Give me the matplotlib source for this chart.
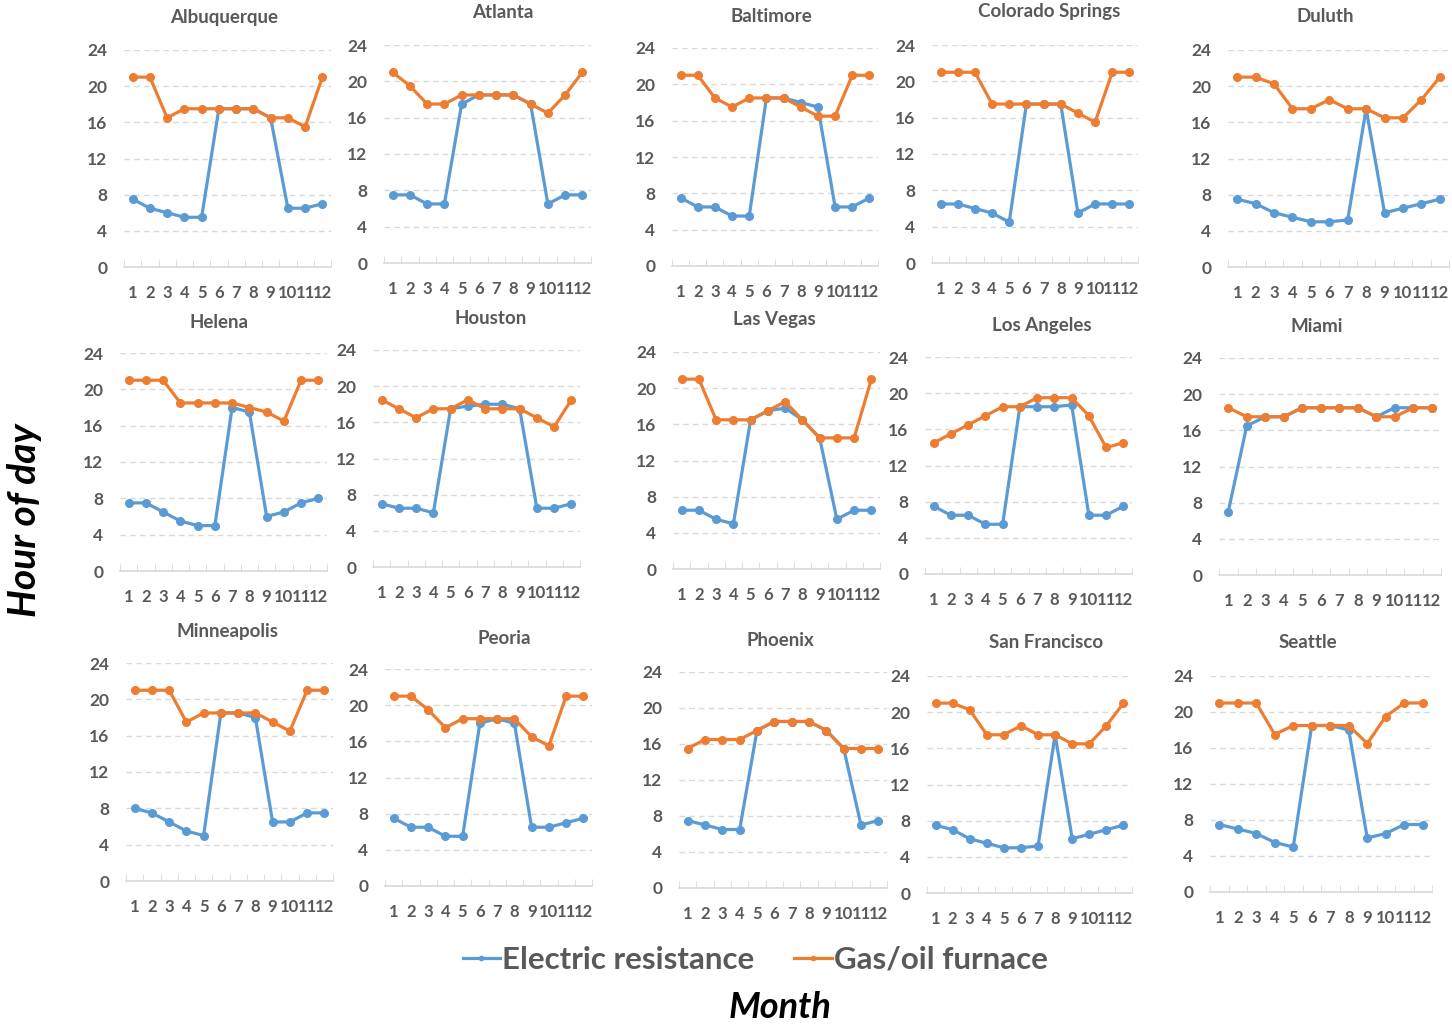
import matplotlib
matplotlib.use("Agg")
import matplotlib.pyplot as plt

plt.rcParams['font.family'] = ['Lato', 'DejaVu Sans']

months = list(range(1, 13))
cities = ["Albuquerque", "Atlanta", "Baltimore", "Colorado Springs", "Duluth",
          "Helena", "Houston", "Las Vegas", "Los Angeles", "Miami",
          "Minneapolis", "Peoria", "Phoenix", "San Francisco", "Seattle"]

electric = [
    [7.5, 6.5, 6, 5.5, 5.5, 17.5, 17.5, 17.5, 16.5, 6.5, 6.5, 7],       # Albuquerque
    [7.5, 7.5, 6.5, 6.5, 17.5, 18.5, 18.5, 18.5, 17.5, 6.5, 7.5, 7.5],  # Atlanta
    [7.5, 6.5, 6.5, 5.5, 5.5, 18.5, 18.5, 18, 17.5, 6.5, 6.5, 7.5],     # Baltimore
    [6.5, 6.5, 6, 5.5, 4.5, 17.5, 17.5, 17.5, 5.5, 6.5, 6.5, 6.5],      # Colorado Springs
    [7.5, 7, 6, 5.5, 5, 5, 5.2, 17.5, 6, 6.5, 7, 7.5],                  # Duluth
    [7.5, 7.5, 6.5, 5.5, 5, 5, 18, 17.5, 6, 6.5, 7.5, 8],               # Helena
    [7, 6.5, 6.5, 6, 17.5, 17.8, 18, 18, 17.5, 6.5, 6.5, 7],            # Houston
    [6.5, 6.5, 5.5, 5, 16.5, 17.5, 17.8, 16.5, 14.5, 5.5, 6.5, 6.5],    # Las Vegas
    [7.5, 6.5, 6.5, 5.5, 5.5, 18.5, 18.5, 18.5, 18.7, 6.5, 6.5, 7.5],   # Los Angeles
    [7, 16.5, 17.5, 17.5, 18.5, 18.5, 18.5, 18.5, 17.5, 18.5, 18.5, 18.5],  # Miami
    [8, 7.5, 6.5, 5.5, 5, 18.5, 18.5, 18, 6.5, 6.5, 7.5, 7.5],          # Minneapolis
    [7.5, 6.5, 6.5, 5.5, 5.5, 18, 18.5, 18, 6.5, 6.5, 7, 7.5],          # Peoria
    [7.5, 7, 6.5, 6.5, 17.5, 18.5, 18.5, 18.5, 17.5, 15.5, 7, 7.5],     # Phoenix
    [7.5, 7, 6, 5.5, 5, 5, 5.2, 17.5, 6, 6.5, 7, 7.5],                  # San Francisco
    [7.5, 7, 6.5, 5.5, 5, 18.5, 18.5, 18, 6, 6.5, 7.5, 7.5],            # Seattle
]

gas = [
    [21, 21, 16.5, 17.5, 17.5, 17.5, 17.5, 17.5, 16.5, 16.5, 15.5, 21],
    [21, 19.5, 17.5, 17.5, 18.5, 18.5, 18.5, 18.5, 17.5, 16.5, 18.5, 21],
    [21, 21, 18.5, 17.5, 18.5, 18.5, 18.5, 17.5, 16.5, 16.5, 21, 21],
    [21, 21, 21, 17.5, 17.5, 17.5, 17.5, 17.5, 16.5, 15.5, 21, 21],
    [21, 21, 20.25, 17.5, 17.5, 18.5, 17.5, 17.5, 16.5, 16.5, 18.5, 21],
    [21, 21, 21, 18.5, 18.5, 18.5, 18.5, 18, 17.5, 16.5, 21, 21],
    [18.5, 17.5, 16.5, 17.5, 17.5, 18.5, 17.5, 17.5, 17.5, 16.5, 15.5, 18.5],
    [21, 21, 16.5, 16.5, 16.5, 17.5, 18.5, 16.5, 14.5, 14.5, 14.5, 21],
    [14.5, 15.5, 16.5, 17.5, 18.5, 18.5, 19.5, 19.5, 19.5, 17.5, 14, 14.5],
    [18.5, 17.5, 17.5, 17.5, 18.5, 18.5, 18.5, 18.5, 17.5, 17.5, 18.5, 18.5],
    [21, 21, 21, 17.5, 18.5, 18.5, 18.5, 18.5, 17.5, 16.5, 21, 21],
    [21, 21, 19.5, 17.5, 18.5, 18.5, 18.5, 18.5, 16.5, 15.5, 21, 21],
    [15.5, 16.5, 16.5, 16.5, 17.5, 18.5, 18.5, 18.5, 17.5, 15.5, 15.5, 15.5],
    [21, 21, 20.25, 17.5, 17.5, 18.5, 17.5, 17.5, 16.5, 16.5, 18.5, 21],
    [21, 21, 21, 17.5, 18.5, 18.5, 18.5, 18.5, 16.5, 19.5, 21, 21],
]

# plot area of each panel in pixels: left, y of 24, right, y of 0, title x, title y
boxes = [
    (124, 50, 331, 267, 224, 18), (384, 45, 591, 263, 503, 13),
    (672, 48, 878, 266, 771, 16), (932, 45, 1138, 263, 1049, 12),
    (1228, 50, 1449, 267, 1325, 17),
    (120, 353, 327, 571, 219, 322), (373, 350, 580, 567, 491, 318),
    (673, 352, 880, 569, 774, 320), (925, 357, 1132, 574, 1042, 326),
    (1219, 358, 1441, 575, 1317, 327),
    (126, 663, 333, 881, 227, 631), (385, 669, 592, 886, 504, 638),
    (679, 672, 887, 888, 780, 640), (927, 676, 1132, 893, 1046, 643),
    (1210, 676, 1432, 892, 1308, 643),
]

W, H = 1452, 1024
BLUE, ORANGE, GREY = "#5B9BD5", "#ED7D31", "#595959"

fig = plt.figure(figsize=(W / 100, H / 100), dpi=100)

for i, city in enumerate(cities):
    l, t, r, b, tx, ty = boxes[i]
    ax = fig.add_axes([l / W, 1 - b / H, (r - l) / W, (b - t) / H])
    pe, = ax.plot(months, electric[i], "-o", color=BLUE, lw=2.3, ms=5.5, clip_on=False)
    pg, = ax.plot(months, gas[i], "-o", color=ORANGE, lw=2.3, ms=5.5, clip_on=False)
    ax.set_xlim(0.5, 12.5)
    ax.set_ylim(0, 24)
    ax.set_yticks(range(0, 25, 4))
    ax.set_xticks(months)
    ax.set_xticks([m + 0.5 for m in range(0, 13)], minor=True)
    ax.grid(axis="y", color="#D9D9D9", ls=(0, (4, 3)), lw=1)
    ax.set_axisbelow(True)
    for s in ["left", "right", "top"]:
        ax.spines[s].set_visible(False)
    ax.spines["bottom"].set_color("#D9D9D9")
    ax.spines["bottom"].set_linewidth(1.2)
    ax.tick_params(axis="y", length=0, pad=12, labelsize=12.5, labelcolor=GREY)
    ax.tick_params(axis="x", which="major", length=0, pad=13, labelsize=12, labelcolor=GREY)
    ax.tick_params(axis="x", which="minor", direction="in", length=5, color="#D9D9D9")
    for lab in ax.get_xticklabels() + ax.get_yticklabels():
        lab.set_fontweight("bold")
    fig.text(tx / W, 1 - ty / H, city, ha="center", va="center",
             fontsize=13.5, fontweight="bold", color=GREY)

fig.legend([pe, pg], ["Electric resistance", "Gas/oil furnace"],
           loc="center", bbox_to_anchor=(755 / W, 1 - 960 / H), ncol=2,
           frameon=False, prop={"size": 22.5, "weight": "bold"}, labelcolor=GREY,
           handlelength=1.2, handletextpad=0.05, columnspacing=1.3, markerscale=0.55)

fig.text(780 / W, 1 - 1007 / H, "Month", ha="center", va="center",
         fontsize=26, fontweight="bold", style="italic")
fig.text(25 / W, 1 - 520 / H, "Hour of day", ha="center", va="center",
         rotation=90, fontsize=28, fontweight="bold", style="italic")

fig.savefig("out.png", dpi=100)
